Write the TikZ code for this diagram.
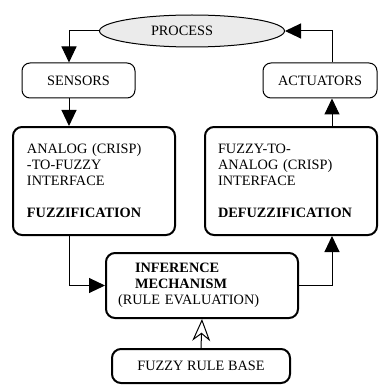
\documentclass[tikz,border=0pt]{standalone}
\usepackage{fontspec}
\setmainfont{Liberation Serif}
\usetikzlibrary{arrows.meta,shapes.geometric,calc}
\definecolor{procfill}{HTML}{EBEBEB}
\begin{document}
\begin{tikzpicture}[x=1pt,y=-1pt,
  font=\fontsize{14.3}{16}\selectfont,
  thinbox/.style={draw, line width=1pt, rounded corners=8pt, inner sep=0pt, minimum height=35pt},
  thickbox/.style={draw, line width=2pt, rounded corners=9pt, inner sep=0pt, align=left},
  arr/.style={line width=1pt, -{Triangle[length=16pt,width=15pt]}},
  openarr/.style={line width=1pt, -{Stealth[open,length=22pt,width=18pt,inset=7pt]}}]
\useasboundingbox (0,0) rectangle (380,385);
\fill[white] (0,0) rectangle (380,385);
% nodes
\node[ellipse, draw, line width=1pt, fill=procfill, minimum width=185pt, minimum height=32pt, inner sep=0pt] (proc) at (192,31) {\hspace*{-20pt}PROCESS};
\node[thinbox, minimum width=113pt] (sens) at (78.5,80.5) {SENSORS};
\node[thinbox, minimum width=114pt] (act) at (320,80.5) {ACTUATORS};
\node[thickbox, minimum width=162pt, minimum height=108pt, text width=134pt] (fuz) at (94,181)
  {ANALOG (CRISP)\\-TO-FUZZY\\INTERFACE\\[16pt]\textbf{FUZZIFICATION}};
\node[thickbox, minimum width=172pt, minimum height=108pt, text width=146pt] (defuz) at (291,181)
  {FUZZY-TO-\\ANALOG (CRISP)\\INTERFACE\\[16pt]\textbf{DEFUZZIFICATION}};
\node[thickbox, minimum width=192pt, minimum height=65pt, text width=168pt] (inf) at (202,285.5)
  {\hspace*{17pt}\textbf{INFERENCE}\\\hspace*{17pt}\textbf{MECHANISM}\\(RULE EVALUATION)};
\node[thickbox, align=center, minimum width=178pt, minimum height=34pt] (rb) at (201,366) {FUZZY RULE BASE};
% columns for connectors
\coordinate (lx) at (69,0);
\coordinate (rx) at (332,0);
% connectors
\draw[arr] (proc.west) -| (lx |- sens.north);
\draw[arr] (lx |- sens.south) -- (lx |- fuz.north);
\draw[arr] (lx |- fuz.south) |- (inf.west);
\draw[arr] (inf.east) -| (rx |- defuz.south);
\draw[arr] (rx |- defuz.north) -- (rx |- act.south);
\draw[arr] (rx |- act.north) |- (proc.east);
\draw[openarr] (rb.north) -- (inf.south);
\end{tikzpicture}
\end{document}
